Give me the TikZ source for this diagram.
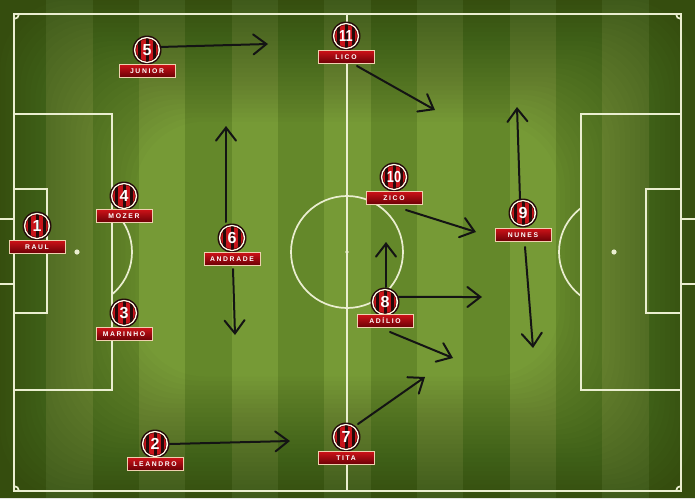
\documentclass[tikz,border=0pt]{standalone}
\usepackage{fontspec}
\usepackage{graphicx}
\usetikzlibrary{arrows.meta}
\newfontfamily\numfont{Liberation Sans}
\newfontfamily\lblfont[LetterSpace=24]{Liberation Sans}
\definecolor{gdark}{RGB}{100,136,42}
\definecolor{glight}{RGB}{118,154,54}
\definecolor{pline}{RGB}{234,238,208}
\definecolor{jred}{RGB}{200,20,26}
\definecolor{jdark}{RGB}{35,10,10}
\definecolor{lblborder}{RGB}{240,208,175}
\definecolor{lbltop}{RGB}{205,18,24}
\definecolor{lblbot}{RGB}{105,0,6}
\newcommand\playerbadge[6]{%
  \fill[jdark] (#2,#3) circle[radius=14.5];
  \fill[white!92!yellow] (#2,#3) circle[radius=13.1];
  \begin{scope}
    \clip (#2,#3) circle[radius=11.6];
    \fill[jred] (#2-12,#3-12) rectangle (#2+12,#3+12);
    \foreach \dx in {-7.2,0,7.2}
      \fill[jdark] (#2+\dx-1.5,#3-12) rectangle (#2+\dx+1.5,#3+12);
    \draw[jdark, line width=1.2pt, opacity=0.6] (#2,#3) circle[radius=11.6];
  \end{scope}
  \node[badge] (p#1) at (#2,#3) {#4};
  \node[lbl] (l#1) at (#2,#6) {#5};
}
\begin{document}
\begin{tikzpicture}[x=1pt,y=-1pt,
  field/.style={draw=pline, line width=1.7pt},
  badge/.style={circle, minimum size=29pt, inner sep=0pt, text=white,
    font=\numfont\bfseries\fontsize{16}{16}\selectfont},
  lbl/.style={rectangle, minimum width=56pt, minimum height=13pt, inner sep=0pt,
    top color=lbltop, bottom color=lblbot, draw=lblborder, line width=0.6pt,
    text=white, font=\lblfont\bfseries\fontsize{6.8}{7}\selectfont},
  arr/.style={draw=black!92, line width=2pt, line cap=round,
    -{Straight Barb[length=13pt,width=20pt,line cap=round]}}]
\useasboundingbox (0,0) rectangle (695,498);
% grass stripes
\fill[gdark] (0,0) rectangle (695,498);
\foreach \i in {1,3,...,13}
  \fill[glight] ({\i*695/15},0) rectangle ({(\i+1)*695/15},498);
% vignette
\foreach \k in {0,...,27}
  \fill[black, opacity=0.015, even odd rule] (0,0) rectangle (695,498)
    [rounded corners=70pt] ({\k*5},{\k*4.5}) rectangle ({695-\k*5},{498-\k*4.5});
% pitch markings
\draw[field] (14,14) rectangle (681,491);
\draw[field] (347,14) -- (347,491);
\draw[field] (347,252) circle[radius=56];
\fill[pline] (347,252) circle[radius=1.8];
% left side
\draw[field] (14,114) rectangle (112,390);
\draw[field] (14,189) rectangle (47,313);
\draw[field] (0,219) -- (14,219);
\draw[field] (0,284) -- (14,284);
\fill[pline] (77,252) circle[radius=2.6];
\begin{scope}
  \clip (112,0) rectangle (200,498);
  \draw[field] (77,252) circle[radius=55];
\end{scope}
% right side
\draw[field] (581,114) rectangle (681,390);
\draw[field] (646,189) rectangle (681,313);
\draw[field] (681,219) -- (695,219);
\draw[field] (681,284) -- (695,284);
\fill[pline] (614,252) circle[radius=2.6];
\begin{scope}
  \clip (500,0) rectangle (581,498);
  \draw[field] (614,252) circle[radius=55];
\end{scope}
% corner arcs
\begin{scope}
  \clip (14,14) rectangle (681,491);
  \draw[field] (14,14) circle[radius=5];
  \draw[field] (681,14) circle[radius=5];
  \draw[field] (14,491) circle[radius=5];
  \draw[field] (681,491) circle[radius=5];
\end{scope}
% players
\playerbadge{1}{37}{226}{1}{RAUL}{247}
\playerbadge{2}{155}{444}{2}{LEANDRO}{464}
\playerbadge{3}{124}{313}{3}{MARINHO}{334}
\playerbadge{4}{124}{196}{4}{MOZER}{216}
\playerbadge{5}{147}{50}{5}{JUNIOR}{71}
\playerbadge{6}{232}{238}{6}{ANDRADE}{259}
\playerbadge{7}{346}{437}{7}{TITA}{458}
\playerbadge{8}{385}{302}{8}{ADÍLIO}{321}
\playerbadge{9}{523}{213}{9}{NUNES}{235}
\playerbadge{10}{394}{177}{\scalebox{0.8}[1]{10}}{ZICO}{198}
\playerbadge{11}{346}{36}{\scalebox{0.8}[1]{11}}{LICO}{57}
% arrow end points
\coordinate (t5) at (268,44);
\coordinate (s11) at (357,66);  \coordinate (t11) at (435,110);
\coordinate (s6u) at (226,222); \coordinate (t6u) at (226,126);
\coordinate (s6d) at (233,269); \coordinate (t6d) at (235,335);
\coordinate (s10) at (406,210); \coordinate (t10) at (476,232);
\coordinate (s8u) at (386,287); \coordinate (t8u) at (386,242);
\coordinate (t8r) at (482,297);
\coordinate (s8d) at (390,332); \coordinate (t8d) at (453,358);
\coordinate (s7) at (358,424);  \coordinate (t7) at (425,377);
\coordinate (t2) at (290,441);
\coordinate (s9u) at (520,199); \coordinate (t9u) at (517,107);
\coordinate (s9d) at (525,247); \coordinate (t9d) at (533,348);
% arrows
\draw[arr] (p5.12) -- (t5);
\draw[arr] (s11) -- (t11);
\draw[arr] (s6u) -- (t6u);
\draw[arr] (s6d) -- (t6d);
\draw[arr] (s10) -- (t10);
\draw[arr] (s8u) -- (t8u);
\draw[arr] (p8.20) -- (t8r);
\draw[arr] (s8d) -- (t8d);
\draw[arr] (s7) -- (t7);
\draw[arr] (p2.east) -- (t2);
\draw[arr] (s9u) -- (t9u);
\draw[arr] (s9d) -- (t9d);
\end{tikzpicture}
\end{document}
